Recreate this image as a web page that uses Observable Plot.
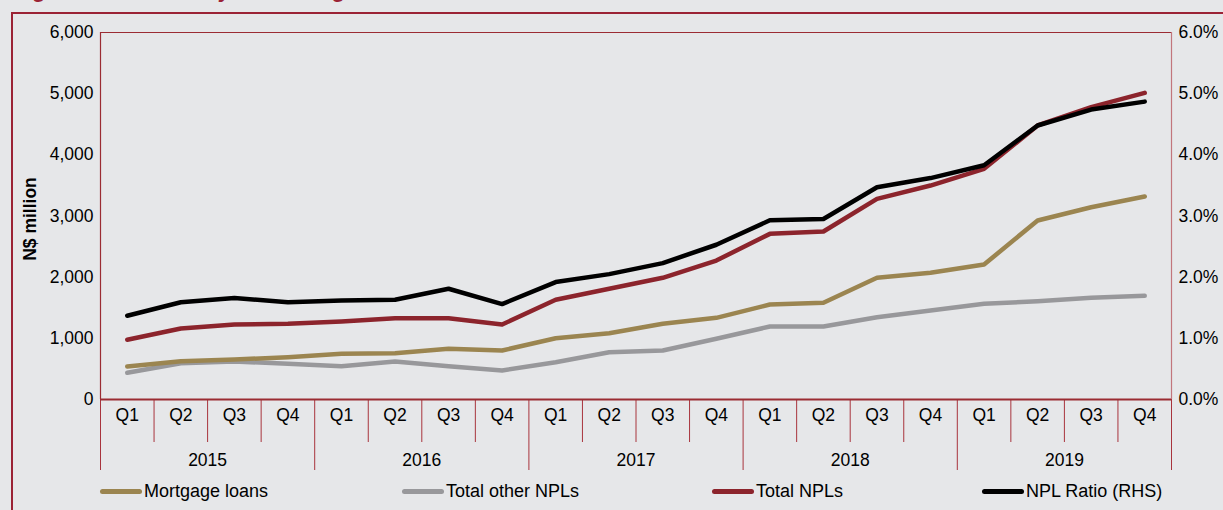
<!DOCTYPE html>
<html>
<head>
<meta charset="utf-8">
<script src="https://cdn.jsdelivr.net/npm/d3@7"></script>
<script src="https://cdn.jsdelivr.net/npm/@observablehq/plot@0.6"></script>
<style>
  html, body { margin: 0; padding: 0; background: #e6e7e9; overflow: hidden; }
  body { width: 1223px; height: 510px; position: relative; font-family: "Liberation Sans", Arial, sans-serif; }
  #title { position: absolute; left: 14px; top: -21.5px; font-size: 22px; line-height: 22px; font-weight: bold; font-style: italic; color: #9b2335; white-space: nowrap; }
  #border { position: absolute; left: 11px; top: 12px; width: 1400px; height: 700px; border-left: 2px solid #9b2335; border-top: 2px solid #9b2335; }
  #chart { position: absolute; left: 0; top: 0; }
  .leg { position: absolute; top: 480px; height: 22px; display: flex; align-items: center; font-size: 18px; color: #000; white-space: nowrap; }
  .leg .sw { width: 42px; height: 5px; border-radius: 3px; margin-right: 2px; }
</style>
</head>
<body>
<div id="title">Figure 2.15: NPLs by loan categories</div>
<div id="border"></div>
<div id="chart"></div>
<div id="legend"></div>
<script>
const years = ["2015", "2016", "2017", "2018", "2019"];
const quarters = ["Q1", "Q2", "Q3", "Q4"];
const mortgageLoans = [540, 626, 654, 692, 747, 757, 829, 801, 1002, 1084, 1237, 1335, 1553, 1581, 1990, 2072, 2207, 2926, 3144, 3318];
const otherNPLs     = [436, 594, 621, 583, 545, 621, 545, 474, 610, 773, 801, 992, 1194, 1194, 1346, 1455, 1564, 1607, 1662, 1695];
const totalNPLs     = [976, 1161, 1226, 1237, 1275, 1329, 1329, 1226, 1630, 1810, 1990, 2272, 2708, 2746, 3281, 3498, 3771, 4480, 4779, 5013];
const nplRatio      = [1.37, 1.59, 1.66, 1.59, 1.62, 1.63, 1.81, 1.56, 1.92, 2.05, 2.23, 2.53, 2.93, 2.95, 3.47, 3.62, 3.83, 4.48, 4.74, 4.87];
const leftTicks = [0, 1000, 2000, 3000, 4000, 5000, 6000];
const seriesNames = ["Mortgage loans", "Total other NPLs", "Total NPLs", "NPL Ratio (RHS)"];
const seriesColors = ["#9b8550", "#98989b", "#8c242c", "#000000"];

// ratio shares the left scale: 6.0% <-> 6,000
const ratioFactor = 1000;
const n = mortgageLoans.length;
const rows = (vals, k = 1) => vals.map((v, i) => ({pos: i + 0.5, value: v * k}));

const qTicks = d3.range(n).map(i => i + 0.5);
const qBounds = d3.range(1, n).filter(i => i % 4 !== 0);
const yBounds = d3.range(0, n + 1, 4);
const yearTicks = years.map((y, i) => i * 4 + 2);

const red = "#9b2c33";
const tickRed = "#a8343d";
const lw = 4.5;

const chart = Plot.plot({
  width: 1223,
  height: 480,
  marginLeft: 100,
  marginRight: 52,
  marginTop: 32,
  marginBottom: 81,
  style: {background: "transparent", fontFamily: "'Liberation Sans', Arial, sans-serif", fontSize: "17.5px", color: "#000", overflow: "visible"},
  x: {type: "linear", domain: [0, n]},
  y: {domain: [0, 6000]},
  marks: [
    Plot.ruleX([0], {stroke: red, strokeWidth: 1.2}),
    Plot.ruleY([6000], {stroke: red, strokeWidth: 1.2}),
    Plot.ruleX([n], {stroke: "#c2767c", strokeWidth: 1.2}),
    Plot.axisY({anchor: "left", ticks: leftTicks, tickSize: 0, tickPadding: 7, tickFormat: d3.format(","), label: null, fontSize: 17.5, fill: "#000"}),
    Plot.axisY({anchor: "right", ticks: leftTicks, tickSize: 0, tickPadding: 7, tickFormat: d => (d / ratioFactor).toFixed(1) + "%", label: null, fontSize: 17.5, fill: "#000"}),
    Plot.axisX({ticks: qBounds, tickSize: 43, tickFormat: () => "", stroke: tickRed, label: null}),
    Plot.axisX({ticks: yBounds, tickSize: 71, tickFormat: () => "", stroke: tickRed, label: null}),
    Plot.axisX({ticks: qTicks, tickSize: 0, tickPadding: 9, tickFormat: d => quarters[Math.floor(d) % 4], label: null, fontSize: 17.5, fill: "#000"}),
    Plot.axisX({ticks: yearTicks, tickSize: 0, tickPadding: 54, tickFormat: d => years[(d - 2) / 4], label: null, fontSize: 17.5, fill: "#000"}),
    Plot.text(["N$ million"], {frameAnchor: "left", textAnchor: "middle", rotate: -90, dx: -70, dy: 3, fontWeight: "bold", fontSize: 17.5, fill: "#000"}),
    Plot.ruleY([0], {stroke: red, strokeWidth: 2}),
    Plot.line(rows(otherNPLs), {x: "pos", y: "value", stroke: seriesColors[1], strokeWidth: lw, strokeLinecap: "round"}),
    Plot.line(rows(mortgageLoans), {x: "pos", y: "value", stroke: seriesColors[0], strokeWidth: lw, strokeLinecap: "round"}),
    Plot.line(rows(totalNPLs), {x: "pos", y: "value", stroke: seriesColors[2], strokeWidth: lw, strokeLinecap: "round"}),
    Plot.line(rows(nplRatio, ratioFactor), {x: "pos", y: "value", stroke: seriesColors[3], strokeWidth: lw, strokeLinecap: "round"})
  ]
});
document.getElementById("chart").appendChild(chart);

const legendX = [100, 402, 712, 982];
const legend = document.getElementById("legend");
seriesNames.forEach((name, i) => {
  const item = document.createElement("div");
  item.className = "leg";
  item.style.left = legendX[i] + "px";
  const sw = document.createElement("div");
  sw.className = "sw";
  sw.style.background = seriesColors[i];
  const t = document.createElement("span");
  t.textContent = name;
  item.appendChild(sw);
  item.appendChild(t);
  legend.appendChild(item);
});
</script>
</body>
</html>
